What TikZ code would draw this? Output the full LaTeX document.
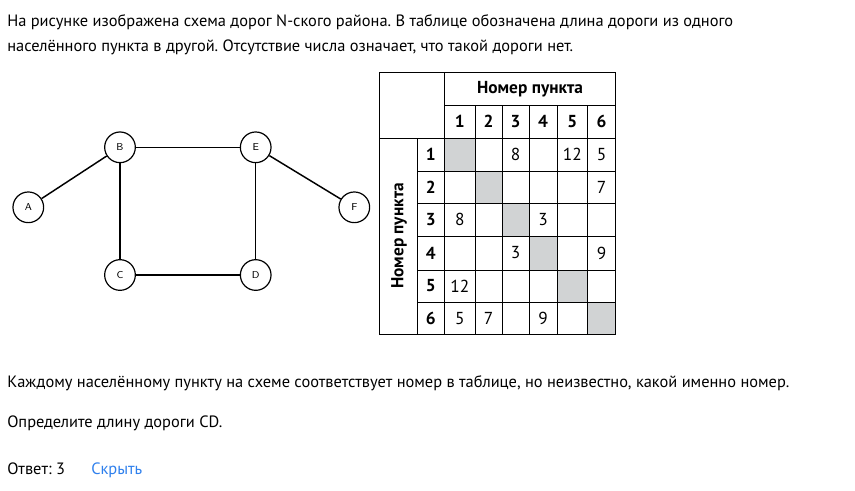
\documentclass[tikz,border=0pt]{standalone}
\usepackage{fontspec}
\setmainfont{PT Sans}
\frenchspacing
\definecolor{cellgray}{HTML}{D1D3D4}
\definecolor{linkblue}{HTML}{2F80ED}
\begin{document}
\begin{tikzpicture}[x=0.75pt,y=-0.75pt,
  body/.style={anchor=base west,inner sep=0pt,font=\fontsize{12.3pt}{14pt}\selectfont},
  vtx/.style={circle,draw,line width=0.9pt,minimum size=23pt,inner sep=0pt,font=\sffamily\fontsize{7.5pt}{8pt}\selectfont},
  edge/.style={line width=1.1pt},
  grid/.style={line width=0.75pt},
  num/.style={inner sep=0pt,font=\fontsize{13pt}{14pt}\selectfont},
  hdr/.style={inner sep=0pt,font=\bfseries\fontsize{13pt}{14pt}\selectfont}]
\useasboundingbox (0,0) rectangle (855,490);
\fill[white] (0,0) rectangle (855,490);
% texts
\node[body] (t1) at (7,26) {На рисунке изображена схема дорог N-ского района. В таблице обозначена длина дороги из одного};
\node[body] (t2) at (7,51) {населённого пункта в другой. Отсутствие числа означает, что такой дороги нет.};
\node[body] (t3) at (7,387) {Каждому населённому пункту на схеме соответствует номер в таблице, но неизвестно, какой именно номер.};
\node[body] (t4) at (7,427) {Определите длину дороги CD.};
\node[body] (t5) at (7,474) {Ответ: 3};
\node[body,text=linkblue] (t6) at (91,474) {Скрыть};
% graph
\node[vtx] (A) at (28.3,207.3) {A};
\node[vtx] (B) at (120,147.3) {B};
\node[vtx] (C) at (120,275) {C};
\node[vtx] (D) at (255.7,275) {D};
\node[vtx] (E) at (255.7,147.3) {E};
\node[vtx] (F) at (354.3,207.3) {F};
\draw[edge] (A) -- (B);
\draw[edge] (B) -- (E);
\draw[edge] (B) -- (C);
\draw[edge] (C) -- (D);
\draw[edge] (E) -- (D);
\draw[edge] (E) -- (F);
% table gray diagonal
\foreach \xa/\xb/\ya/\yb in {444.5/475/138/171.5, 475/502/171.5/203.5, 502/529/203.5/236, 529/557/236/270, 557/587.5/270/302, 587.5/615.5/302/334.5}{
  \fill[cellgray] (\xa,\ya) rectangle (\xb,\yb);
}
% grid
\draw[grid] (379.5,72.5) rectangle (615.5,334.5);
\draw[grid] (444.5,72.5) -- (444.5,334.5);
\draw[grid] (417,138) -- (417,334.5);
\draw[grid] (444.5,105) -- (615.5,105);
\draw[grid] (379.5,138) -- (615.5,138);
\foreach \y in {171.5,203.5,236,270,302}{\draw[grid] (417,\y) -- (615.5,\y);}
\foreach \x in {475,502,529,557,587.5}{\draw[grid] (\x,105) -- (\x,334.5);}
% headers
\node[hdr] (colhdr) at (530,89) {Номер пункта};
\node[hdr,rotate=90] (rowhdr) at (399,236) {Номер пункта};
\foreach \lab/\xa/\ya in {1/459.75/154.75, 2/488.5/187.5, 3/515.5/219.75, 4/543/253, 5/572.25/286, 6/601.5/318.25}{
  \node[hdr] (ch\lab) at (\xa,121.5) {\lab};
  \node[hdr] (rh\lab) at (430.7,\ya) {\lab};
}
% numbers
\foreach \r/\c/\xa/\ya/\v in {1/3/515.5/154.75/8, 1/5/572.25/154.75/12, 1/6/601.5/154.75/5,
  2/6/601.5/187.5/7,
  3/1/459.75/219.75/8, 3/4/543/219.75/3,
  4/3/515.5/253/3, 4/6/601.5/253/9,
  5/1/459.75/286/12,
  6/1/459.75/318.25/5, 6/2/488.5/318.25/7, 6/4/543/318.25/9}{
  \node[num] (n\r\c) at (\xa,\ya) {\v};
}
\end{tikzpicture}
\end{document}
